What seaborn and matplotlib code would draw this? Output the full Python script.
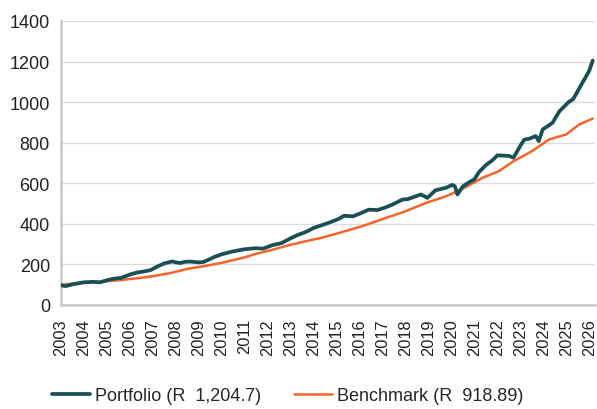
import matplotlib
matplotlib.use("Agg")
import matplotlib.pyplot as plt
import seaborn as sns
import pandas as pd
from matplotlib.lines import Line2D

port_years = [2003.0, 2003.2, 2003.5, 2003.8, 2004.0, 2004.4, 2004.7, 2005.0, 2005.3, 2005.6,
              2006.0, 2006.3, 2006.6, 2006.9, 2007.2, 2007.5, 2007.85, 2008.0, 2008.2, 2008.4,
              2008.65, 2009.0, 2009.2, 2009.4, 2009.7, 2010.0, 2010.4, 2010.75, 2011.0, 2011.5,
              2011.8, 2012.2, 2012.6, 2012.93, 2013.3, 2013.66, 2014.0, 2014.4, 2014.82, 2015.1,
              2015.33, 2015.7, 2016.0, 2016.4, 2016.78, 2017.1, 2017.43, 2017.87, 2018.1, 2018.3,
              2018.67, 2018.95, 2019.3, 2019.76, 2020.04, 2020.15, 2020.26, 2020.5, 2020.77, 2021.0,
              2021.2, 2021.5, 2021.8, 2022.0, 2022.5, 2022.7, 2023.0, 2023.17, 2023.4, 2023.67,
              2023.8, 2023.97, 2024.4, 2024.7, 2025.1, 2025.3, 2025.7, 2026.0, 2026.15]
port_values = [97, 93, 102, 108, 112, 114, 112, 122, 130, 133,
               150, 160, 165, 172, 190, 205, 215, 210, 207, 213,
               214, 210, 212, 222, 238, 250, 262, 270, 275, 280,
               278, 295, 305, 325, 345, 360, 380, 395, 412, 425,
               440, 437, 450, 470, 468, 480, 495, 520, 522, 530,
               545, 528, 565, 578, 592, 585, 545, 585, 605, 620,
               655, 690, 715, 738, 735, 726, 785, 815, 820, 833,
               808, 865, 898, 955, 1000, 1015, 1095, 1155, 1205]

bench_years = [2003.0, 2004.15, 2005.0, 2005.6, 2006.5, 2007.05, 2007.78, 2008.5, 2009.15, 2010.0,
               2011.0, 2011.48, 2012.2, 2012.93, 2013.6, 2014.3, 2015.1, 2016.1, 2017.14, 2018.0,
               2018.88, 2019.76, 2020.26, 2020.6, 2021.35, 2022.07, 2022.7, 2023.5, 2024.25, 2025.0,
               2025.56, 2026.15]
bench_values = [100, 110, 117, 123, 134, 143, 158, 178, 190, 208,
                235, 252, 272, 295, 313, 330, 355, 388, 429, 462,
                503, 536, 561, 580, 627, 660, 709, 758, 816, 841,
                890, 919]

tick_years = list(range(2003, 2027))
y_ticks = [0, 200, 400, 600, 800, 1000, 1200, 1400]
port_label = "Portfolio (R  1,204.7)"
bench_label = "Benchmark (R  918.89)"

sns.set_theme(style="white")
plt.rcParams['font.family'] = ['Liberation Sans', 'DejaVu Sans']

df = pd.concat([
    pd.DataFrame({"year": port_years, "value": port_values, "series": port_label}),
    pd.DataFrame({"year": bench_years, "value": bench_values, "series": bench_label}),
])

fig = plt.figure(figsize=(5.97, 4.10), dpi=100)
ax = fig.add_axes([61/597, 1-306/410, (595-61)/597, (306-22)/410])

palette = {port_label: "#1a4f55", bench_label: "#f4652b"}
sns.lineplot(data=df, x="year", y="value", hue="series", palette=palette, ax=ax,
             legend=False, estimator=None, sort=True)
lines = ax.get_lines()
lines[0].set_linewidth(2.7)
lines[1].set_linewidth(1.8)
lines[1].set_zorder(3)
lines[0].set_zorder(4)

ax.set_xlim(2003.0, 2026.25)
ax.set_ylim(0, 1400)
ax.set_yticks(y_ticks)
ax.set_xticks(tick_years)
ax.tick_params(axis='y', labelsize=13, colors='#222222', length=4, color='#c8c8c8', width=1,
               direction='out', pad=4)
ax.yaxis.grid(True, color='#dcdcdc', linewidth=1)
ax.set_axisbelow(True)
ax.set_xlabel("")
ax.set_ylabel("")
for s in ['top', 'right']:
    ax.spines[s].set_visible(False)
ax.spines['left'].set_color('#c8c8c8')
ax.spines['left'].set_linewidth(1.8)
ax.spines['bottom'].set_color('#c8c8c8')
ax.spines['bottom'].set_linewidth(1.8)
ax.tick_params(axis='x', which='major', labelsize=11.8, labelcolor='#222222',
               length=0, pad=9.5, labelrotation=90)
ax.set_xticklabels([str(y) for y in tick_years], rotation=90, rotation_mode='anchor',
                   ha='right', va='center')

handles = [Line2D([0], [0], color="#1a4f55", lw=2.7), Line2D([0], [0], color="#f4652b", lw=1.8)]
fig.legend(handles, [port_label, bench_label], loc='center', bbox_to_anchor=(288/597, 1-397/410),
           ncol=2, frameon=False, fontsize=13, handlelength=2.1, columnspacing=1.8,
           handletextpad=0.3)

fig.savefig("out.png", dpi=100)
